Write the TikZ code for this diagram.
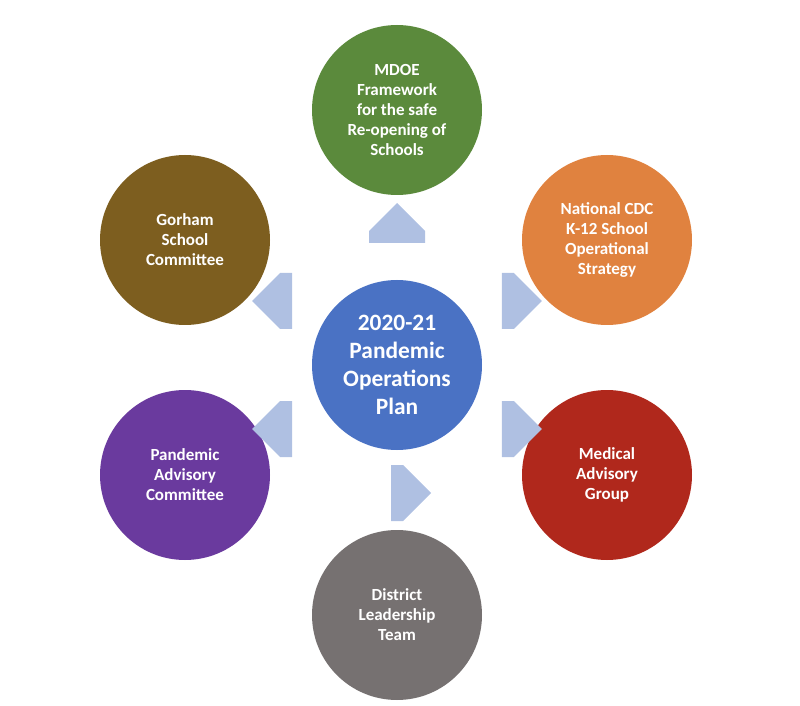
\documentclass[tikz,border=0pt]{standalone}
\usepackage{fontspec}
\setmainfont{Carlito}
\usetikzlibrary{shapes.arrows,calc}
\definecolor{planblue}{HTML}{4A72C4}
\definecolor{mdoegreen}{HTML}{5B8A3C}
\definecolor{cdcorange}{HTML}{E0823F}
\definecolor{medred}{HTML}{B0281C}
\definecolor{teamgray}{HTML}{767171}
\definecolor{advpurple}{HTML}{6A3A9E}
\definecolor{gorhamolive}{HTML}{7D5E1F}
\definecolor{arrowblue}{HTML}{AFC0E2}
\begin{document}
\begin{tikzpicture}[x=0.03cm,y=-0.03cm]
    \tikzstyle{group} = [circle,minimum size=170*0.03cm,inner sep=0pt,text=white,
      font=\bfseries\fontsize{14.5}{17}\selectfont,align=center]
    \tikzstyle{push} = [single arrow,fill=arrowblue,minimum height=40*0.03cm,
      minimum width=56*0.03cm,single arrow head extend=0pt,inner sep=0pt]
    \useasboundingbox (0,0) rectangle (800,706);
    \node [group,fill=planblue,font=\bfseries\fontsize{20}{24}\selectfont] (plan) at (397,365) {2020-21\\Pandemic\\Operations\\Plan};
    \node [group,fill=mdoegreen] (mdoe) at (397,110) {MDOE\\Framework\\for the safe\\Re-opening of\\Schools};
    \node [group,fill=cdcorange] (cdc) at (607,240) {National CDC\\K-12 School\\Operational\\Strategy};
    \node [group,fill=medred] (medical) at (607,475) {Medical\\Advisory\\Group};
    \node [group,fill=teamgray] (district) at (397,615) {District\\Leadership\\Team};
    \node [group,fill=advpurple] (advisory) at (185,475) {Pandemic\\Advisory\\Committee};
    \node [group,fill=gorhamolive] (gorham) at (185,240) {Gorham\\School\\Committee};
    % arrows out of the plan
    \foreach \ang/\name in {90/mdoe,30/cdc,-30/medical,-90/district,210/advisory,150/gorham}
      \node [push,shape border rotate=\ang] (to \name) at ($(plan)+({128*cos(\ang)},{-128*sin(\ang)})$) {};
\end{tikzpicture}
\end{document}
